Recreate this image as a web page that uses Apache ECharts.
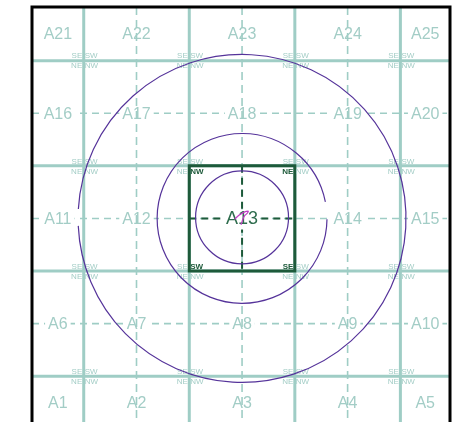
<!DOCTYPE html>
<html><head><meta charset="utf-8">
<script src="https://cdn.jsdelivr.net/npm/echarts@6/dist/echarts.min.js"></script>
<style>html,body{margin:0;padding:0;background:#fff}#c{width:452px;height:422px}</style>
</head><body><div id="c"></div>
<script>
// ---- data ----
const xRange = [0.51, 4.47];          // visible extent in cell units
const yRange = [0.49, 4.435];         // rows counted from the top (window cuts the map)
const mapExtentY = [0.49, 4.51];      // full map extent (bottom lies below the window)
const solidLines = [1, 2, 3, 4];      // cell boundaries
const dashedLines = [1.5, 2.5, 3.5];  // cell centre lines
const cellLabels = [
  'A21','A22','A23','A24','A25',
  'A16','A17','A18','A19','A20',
  'A11','A12','A13','A14','A15',
  'A6','A7','A8','A9','A10',
  'A1','A2','A3','A4','A5'
];
const highlightCell = [2, 2];         // column, row of A13
const cornerNames = ['SE', 'SW', 'NE', 'NW']; // quadrant text: upper-left, upper-right, lower-left, lower-right
const contourCenterX = [2.5, 2.5, 2.5];
const contourCenterY = [2.5, 2.5, 2.49];
const contourRadius = [1.556, 0.806, 0.441];
const contourGapFrom = [177.4, 348.8, 0];   // degrees, screen orientation
const contourGapTo = [183.3, 360.5, 0];
const peakX = [2.43, 2.47, 2.52, 2.56, 2.55, 2.52, 2.5, 2.49];
const peakY = [2.51, 2.47, 2.44, 2.43, 2.45, 2.48, 2.53, 2.56];

// ---- styles ----
const LIGHT = '#a3cdc6';
const LINE = '#9fcdc5';
const DARK = '#1d5a3a';
const FONT = '"Liberation Sans", Arial, sans-serif';

const N = 5;
const cellItems = cellLabels.map((t, i) => {
  const r = Math.floor(i / N), c = i % N;
  const cx = (Math.max(c, xRange[0]) + Math.min(c + 1, xRange[1])) / 2;
  const cy = (Math.max(r, mapExtentY[0]) + Math.min(r + 1, mapExtentY[1])) / 2;
  return { t, cx, cy, hi: c === highlightCell[0] && r === highlightCell[1] };
});
const normalCells = cellItems.filter(d => !d.hi);
const hiCells = cellItems.filter(d => d.hi);

const cornerItems = [];
solidLines.forEach(ix => solidLines.forEach(iy => {
  const quads = [[-1, -1], [0, -1], [-1, 0], [0, 0]];
  quads.forEach((q, k) => {
    const col = ix + q[0], row = iy + q[1];
    cornerItems.push({ x: ix, y: iy, k, t: cornerNames[k],
      hi: col === highlightCell[0] && row === highlightCell[1] });
  });
}));

function vLine(style) {
  return function (params, api) {
    const cs = params.coordSys;
    const p = api.coord([api.value(0), api.value(1)]);
    return { type: 'line', shape: { x1: p[0], y1: cs.y, x2: p[0], y2: cs.y + cs.height }, style };
  };
}
function hLine(style) {
  return function (params, api) {
    const cs = params.coordSys;
    const p = api.coord([api.value(0), api.value(1)]);
    return { type: 'line', shape: { x1: cs.x, y1: p[1], x2: cs.x + cs.width, y2: p[1] }, style };
  };
}

const series = [];
series.push({ type: 'custom', z: 1, silent: true, data: dashedLines.map(v => [xRange[0], v]),
  renderItem: hLine({ stroke: LINE, lineWidth: 1.6, lineDash: [7, 5] }) });
series.push({ type: 'custom', z: 2, silent: true, data: solidLines.map(v => [v, yRange[0]]),
  renderItem: vLine({ stroke: LINE, lineWidth: 3 }) });
series.push({ type: 'custom', z: 2, silent: true, data: solidLines.map(v => [xRange[0], v]),
  renderItem: hLine({ stroke: LINE, lineWidth: 3 }) });
series.push({ type: 'custom', z: 3, silent: true, data: normalCells.map(d => [d.cx, d.cy]),
  renderItem: (params, api) => {
    const d = normalCells[params.dataIndex];
    const p = api.coord([d.cx, d.cy]);
    return { type: 'text', x: p[0], y: p[1] + 1, style: { text: d.t, fill: LIGHT, fontSize: 16,
      fontFamily: FONT, align: 'center', verticalAlign: 'middle', backgroundColor: '#fff', padding: [1, 3] } };
  } });
series.push({ type: 'custom', z: 4, silent: true, data: dashedLines.map(v => [v, yRange[0]]),
  renderItem: vLine({ stroke: LINE, lineWidth: 1.6, lineDash: [8, 5] }) });
series.push({ type: 'custom', z: 5, silent: true, data: [[highlightCell[0] + 0.5, highlightCell[1] + 0.5]],
  renderItem: (params, api) => {
    const c = api.value(0), r = api.value(1);
    const a = api.coord([c - 0.5, r - 0.5]), b = api.coord([c + 0.5, r + 0.5]);
    const m = api.coord([c, r]);
    const dash = { stroke: DARK, lineWidth: 2, lineDash: [7, 5] };
    return { type: 'group', children: [
      { type: 'line', shape: { x1: m[0], y1: a[1], x2: m[0], y2: b[1] }, style: dash },
      { type: 'line', shape: { x1: a[0], y1: m[1], x2: b[0], y2: m[1] }, style: dash },
      { type: 'rect', shape: { x: a[0], y: a[1], width: b[0] - a[0], height: b[1] - a[1] },
        style: { stroke: DARK, lineWidth: 3, fill: 'none' } }
    ] };
  } });
series.push({ type: 'custom', z: 6, silent: true, data: hiCells.map(d => [d.cx, d.cy]),
  renderItem: (params, api) => {
    const d = hiCells[params.dataIndex];
    const p = api.coord([d.cx, d.cy]);
    return { type: 'text', x: p[0], y: p[1] + 1, style: { text: d.t, fill: '#2f6d4e', fontSize: 18,
      fontFamily: FONT, align: 'center', verticalAlign: 'middle', backgroundColor: '#fff', padding: [1, 2] } };
  } });
series.push({ type: 'custom', z: 7, silent: true, data: cornerItems.map(d => [d.x, d.y]),
  renderItem: (params, api) => {
    const d = cornerItems[params.dataIndex];
    const p = api.coord([d.x, d.y]);
    const left = d.k === 0 || d.k === 2, top = d.k < 2;
    return { type: 'text', x: p[0] + (left ? -1.5 : 1), y: p[1] + (top ? -0.5 : 1.5),
      style: { text: d.t, fill: d.hi ? DARK : LIGHT, fontSize: 8, fontWeight: d.hi ? 'bold' : 'normal',
        fontFamily: FONT, align: left ? 'right' : 'left', verticalAlign: top ? 'bottom' : 'top' } };
  } });
series.push({ type: 'custom', z: 8, silent: true,
  data: contourRadius.map((r, i) => [contourCenterX[i], contourCenterY[i], r, contourGapFrom[i], contourGapTo[i]]),
  renderItem: (params, api) => {
    const c = api.coord([api.value(0), api.value(1)]);
    const s = api.size([api.value(2), api.value(2)]);
    const rp = (s[0] + s[1]) / 2;
    const g0 = api.value(3), g1 = api.value(4);
    const start = (g1 === g0 ? 0 : g1) * Math.PI / 180;
    const end = (g1 === g0 ? 360 : g0 + 360) * Math.PI / 180;
    return { type: 'arc', shape: { cx: c[0], cy: c[1], r: rp, startAngle: start, endAngle: end, clockwise: true },
      style: { stroke: '#55339a', lineWidth: 1.2, fill: 'none' } };
  } });
series.push({ type: 'line', z: 9, silent: true, smooth: true, showSymbol: false, symbol: 'none',
  data: peakX.map((x, i) => [x, peakY[i]]),
  lineStyle: { color: '#c03cc4', width: 1.2 } });
// frame: top, left and right edges (bottom edge lies outside the window)
series.push({ type: 'custom', z: 10, silent: true, data: [[xRange[0], yRange[0]]],
  renderItem: (params) => {
    const cs = params.coordSys;
    return { type: 'polyline', shape: { points: [[cs.x, cs.y + cs.height + 5], [cs.x, cs.y],
      [cs.x + cs.width, cs.y], [cs.x + cs.width, cs.y + cs.height + 5]] },
      style: { stroke: '#000', lineWidth: 3, fill: 'none' } };
  } });

const chart = echarts.init(document.getElementById('c'), null, { renderer: 'canvas' });
chart.setOption({
  animation: false,
  backgroundColor: '#fff',
  grid: { left: 32, right: 2, top: 7, bottom: 0 },
  xAxis: { type: 'value', min: xRange[0], max: xRange[1], show: false },
  yAxis: { type: 'value', min: yRange[0], max: yRange[1], inverse: true, show: false },
  series
});
</script></body></html>
